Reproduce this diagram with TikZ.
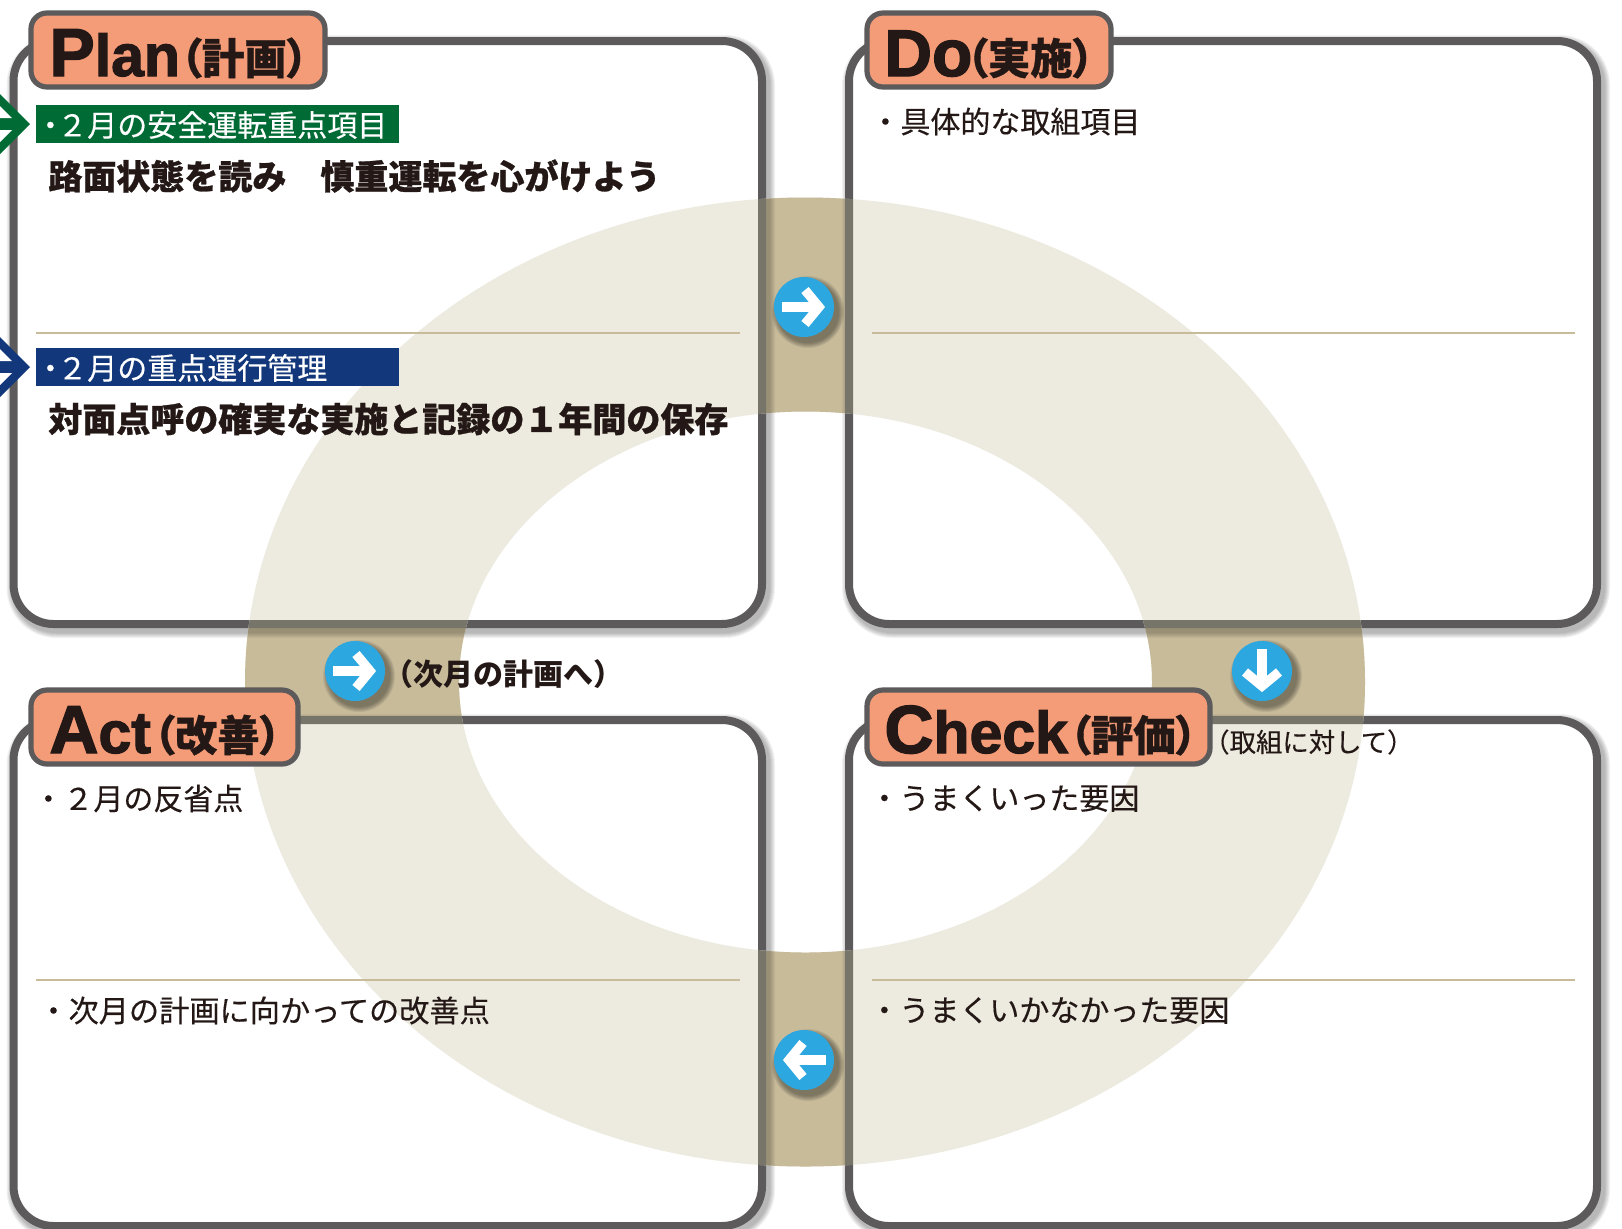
\documentclass[tikz,border=0pt]{standalone}
\usepackage{fontspec}
\setmainfont{Noto Sans CJK JP}
\newfontfamily\latnf[BoldFeatures={FakeBold=2}]{Liberation Sans}
\newfontfamily\jpheavy[BoldFeatures={FakeBold=0.8}]{Noto Sans CJK JP}
\newfontfamily\jphalt[RawFeature=+halt,BoldFeatures={FakeBold=0.8}]{Noto Sans CJK JP}
\newfontfamily\jphaltplain[RawFeature=+halt]{Noto Sans CJK JP}
\newfontfamily\jpmed[FakeBold=0.3]{Noto Sans CJK JP}
\newfontfamily\jphaltmed[RawFeature=+halt,FakeBold=0.3]{Noto Sans CJK JP}
\definecolor{pgray}{HTML}{5C5A5B}
\definecolor{pgrayring}{HTML}{77746A}
\definecolor{ringlight}{HTML}{EDEBE0}
\definecolor{ringdark}{HTML}{C7BB9A}
\definecolor{sal}{HTML}{F49B77}
\definecolor{bluec}{HTML}{2DA7E0}
\definecolor{gbar}{HTML}{006B35}
\definecolor{nbar}{HTML}{12377A}
\definecolor{ink}{HTML}{231815}
\newcommand{\fs}[1]{\fontsize{#1pt}{#1pt}\selectfont}
\newcommand{\drawpanels}[1]{%
  \foreach \xa/\ya/\xb/\yb in {13.5/41/762/624, 849/41/1597/624, 13.5/720/762/1226, 849/720/1597/1226}{
    \draw[#1,rounded corners=20pt] (\xa,\ya) rectangle (\xb,\yb);
  }}
\newcommand{\ringpath}{(1365,682) arc[start angle=0,end angle=360,x radius=560,y radius=484.5] -- cycle
  (1152,682) arc[start angle=0,end angle=-360,x radius=346.5,y radius=270.5] -- cycle}
\newcommand{\jpparen}[1]{（\kern-0.04em #1\kern-0.04em ）}
\newcommand{\inarrow}[2]{%
  \begin{scope}[shift={(#1.center)},rotate=#2]
    \draw[wharrow] (-11pt,0pt) -- (8pt,0pt);
    \draw[wharrow,miter limit=10] (0.5pt,-8.5pt) -- (7.5pt,0pt) -- (0.5pt,8.5pt);
  \end{scope}}
\tikzset{
  panelline/.style={draw=pgray,line width=4pt},
  panelring/.style={draw=pgrayring,line width=4pt},
  titlebox/.style={draw=pgray,fill=sal,line width=2.6pt,rounded corners=8pt},
  sepline/.style={draw=ringdark,line width=1.4pt},
  circ/.style={circle,fill=bluec,minimum size=30pt,inner sep=0pt},
  wharrow/.style={draw=white,line width=4.7pt},
  body/.style={anchor=west,inner sep=0pt,text=ink,font=\fs{15}\jpmed},
  bartext/.style={anchor=west,inner sep=0pt,text=white,font=\fs{15}\jpmed},
  strong/.style={anchor=west,inner sep=0pt,text=ink,font=\fs{17}\jpheavy\bfseries},
  titlelat/.style={anchor=base west,inner sep=0pt,text=ink},
  titlejp/.style={anchor=west,inner sep=0pt,text=ink,font=\fs{21.2}\jphalt\bfseries},
}
\begin{document}
\begin{tikzpicture}[x=0.5pt,y=-0.5pt]
\useasboundingbox (0,0) rectangle (1622,1228);
\fill[white] (0,0) rectangle (1622,1228);
% panel shadows
\foreach \w in {12,10,8,6,4,2}{
  \begin{scope}[shift={(3,4)}]
    \drawpanels{draw=black,opacity=0.05,line width=4pt+\w*0.5pt}
  \end{scope}
}
\foreach \xa/\ya/\xb/\yb in {13.5/41/762/624, 849/41/1597/624, 13.5/720/762/1226, 849/720/1597/1226}{
  \fill[white,rounded corners=20pt] (\xa,\ya) rectangle (\xb,\yb);
}
\drawpanels{panelline}
% ring
\fill[ringlight] \ringpath;
\begin{scope}
  \clip \ringpath;
  \fill[ringdark] (766,150) rectangle (845,1200);
  \fill[ringdark] (200,628) rectangle (1400,716);
  \begin{scope}
    \clip (766,150) rectangle (845,1200) (200,628) rectangle (1400,716);
    \foreach \w in {12,10,8,6,4,2}{
      \begin{scope}[shift={(3,4)}]
        \drawpanels{draw=black,opacity=0.04,line width=4pt+\w*0.5pt}
      \end{scope}
    }
  \end{scope}
  \drawpanels{panelring}
\end{scope}
% separators
\draw[sepline] (36,333) -- (740,333);
\draw[sepline] (872,333) -- (1575,333);
\draw[sepline] (36,980) -- (740,980);
\draw[sepline] (872,980) -- (1575,980);
% title boxes
\draw[titlebox] (31,13) rectangle (325,87);
\draw[titlebox] (867,13) rectangle (1111,87);
\draw[titlebox] (31,690) rectangle (298,764);
\draw[titlebox] (867,690) rectangle (1210,764);
\node[titlelat] (tP) at (49,76) {\latnf\bfseries{\fs{34}P}{\fs{29.5}lan}};
\node[titlejp] (tPj) at (182,58) {\jpparen{計画}};
\node[titlelat] (tD) at (884,76) {\latnf\bfseries\fs{33}Do};
\node[titlejp] (tDj) at (968,58) {\jpparen{実施}};
\node[titlelat] (tA) at (49,753) {\latnf\bfseries{\fs{34}A}{\fs{29.5}ct}};
\node[titlejp] (tAj) at (155,735) {\jpparen{改善}};
\node[titlelat] (tC) at (884,753) {\latnf\bfseries{\fs{34}C}{\fs{29.5}heck}};
\node[titlejp] (tCj) at (1071,735) {\jpparen{評価}};
% bars
\fill[gbar] (36,105) rectangle (399,143);
\fill[nbar] (36,348) rectangle (399,386);
\foreach \yy/\cc in {124/gbar,367/nbar}{
  \fill[\cc] (0,\yy-30) -- (30,\yy) -- (0,\yy+30) -- cycle;
  \fill[white] (0,\yy-18) -- (12,\yy-6) -- (0,\yy-6) -- cycle;
  \fill[white] (0,\yy+18) -- (12,\yy+6) -- (0,\yy+6) -- cycle;
}
\node[bartext] (b1) at (35,125) {・\kern-0.27em ２月の安全運転重点項目};
\node[bartext] (b2) at (35,368) {・\kern-0.27em ２月の重点運行管理};
\node[strong] (s1) at (48,176) {路面状態を読み　慎重運転を心がけよう};
\node[strong] (s2) at (48,419) {対面点呼の確実な実施と記録の１年間の保存};
\node[body] (d1) at (870,121.5) {・具体的な取組項目};
\node[body] (c1) at (869,798.5) {・うまくいった要因};
\node[body] (c2) at (869,1010.5) {・うまくいかなかった要因};
\node[body] (a1) at (33,798.5) {・２月の反省点};
\node[body,font=\fs{15.1}\jpmed] (a2) at (38,1010.5) {・次月の計画に向かっての改善点};
\node[body,font=\fs{15}\jphaltplain\bfseries] (n1) at (398,674) {（次月の計画へ）};
\node[body,font=\fs{13.2}\jphaltmed] (n2) at (1216,742) {（取組に対して）};
% circles
\foreach \cx/\cy/\nm in {804/307/cR, 355/671/cL, 1262/671/cD, 804/1060/cB}{
  \foreach \w in {36,35,34,33,32,31}{
    \fill[black,opacity=0.07] (\cx+4,\cy+5) circle[radius=\w];
  }
  \node[circ] (\nm) at (\cx,\cy) {};
}
\inarrow{cR}{0}
\inarrow{cL}{0}
\inarrow{cB}{180}
\inarrow{cD}{-90}
\end{tikzpicture}
\end{document}
